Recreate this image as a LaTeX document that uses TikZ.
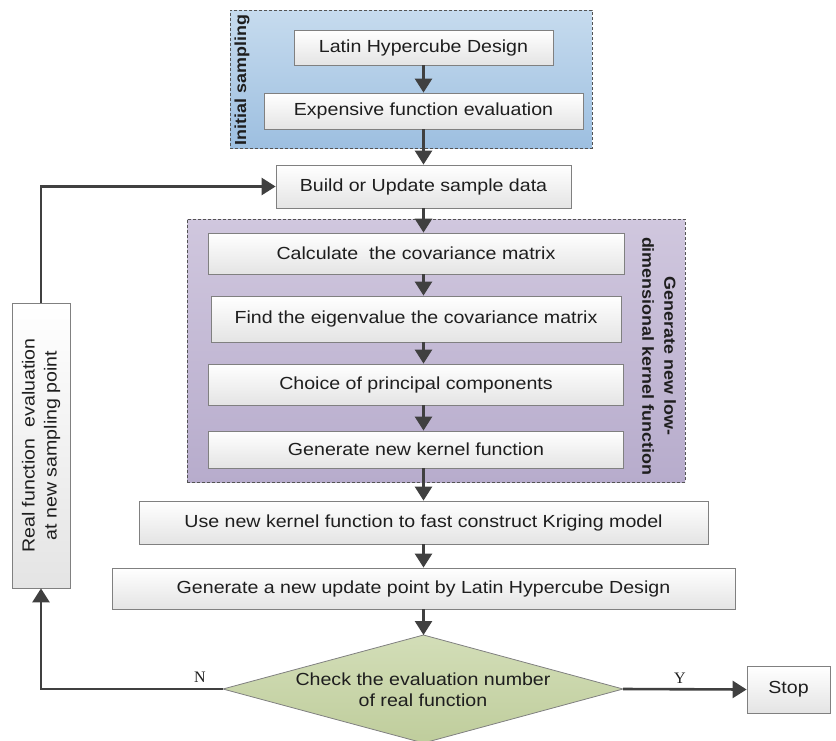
\documentclass[tikz,border=0pt]{standalone}
\usepackage{fontspec}
\setmainfont{Liberation Sans}[FakeStretch=1.12]
\newfontfamily\ynfont{Liberation Serif}
\usetikzlibrary{arrows.meta}

\definecolor{arrowgray}{HTML}{404040}
\definecolor{boxedge}{HTML}{808080}
\definecolor{boxshade}{HTML}{E4E4E4}
\definecolor{txt}{HTML}{1E1E1E}
\definecolor{bluetop}{HTML}{C6DBEE}
\definecolor{bluebot}{HTML}{9DBFE0}
\definecolor{purptop}{HTML}{D0C7DE}
\definecolor{purpbot}{HTML}{B7ACCC}
\definecolor{greentop}{HTML}{D3DEB8}
\definecolor{greenbot}{HTML}{BFCD9C}

\tikzset{
  stepbox/.style={draw=boxedge, line width=0.8pt, top color=white, bottom color=boxshade,
    text=txt, inner sep=0pt, font=\fontsize{17.5}{22}\selectfont},
  groupbox/.style={draw=arrowgray!90, line width=0.8pt, dash pattern=on 3pt off 2pt,
    inner sep=0pt},
  grouplabel/.style={text=txt, font=\bfseries\fontsize{16}{22}\selectfont, align=center},
  flow/.style={draw=arrowgray, line width=2.6pt, -{Triangle[length=14pt,width=17pt]}},
  ynlabel/.style={text=txt, font=\ynfont\fontsize{16}{18}\selectfont},
}

\begin{document}
\begin{tikzpicture}[x=1pt,y=-1pt]
\useasboundingbox (0,0) rectangle (836,740);

% grouping frames
\node[groupbox, top color=bluetop, bottom color=bluebot,
      minimum width=362pt, minimum height=138pt] (initgrp) at (411,79) {};
\node[groupbox, top color=purptop, bottom color=purpbot,
      minimum width=498pt, minimum height=263pt] (pcagrp) at (436,350.5) {};

\node[grouplabel, rotate=90] (initlbl) at (242,80) {Initial sampling};
\node[grouplabel, rotate=-90] (pcalbl) at (659,356)
  {Generate new low-\\dimensional kernel function};

% process steps
\node[stepbox, minimum width=259pt, minimum height=35pt] (lhd) at (423.5,47.5)
  {Latin Hypercube Design};
\node[stepbox, minimum width=319pt, minimum height=36pt] (expf) at (423.5,111)
  {Expensive function evaluation};
\node[stepbox, minimum width=295pt, minimum height=43pt] (build) at (423.5,186.5)
  {Build or Update sample data};
\node[stepbox, minimum width=416pt, minimum height=41pt] (calc) at (416,253.5)
  {Calculate~ the covariance matrix};
\node[stepbox, minimum width=410pt, minimum height=46pt] (eig) at (416,319)
  {Find the eigenvalue the covariance matrix};
\node[stepbox, minimum width=415pt, minimum height=41pt] (choice) at (416,384.5)
  {Choice of principal components};
\node[stepbox, minimum width=415pt, minimum height=37pt] (genk) at (416,449.5)
  {Generate new kernel function};
\node[stepbox, minimum width=569pt, minimum height=43pt] (usek) at (423.5,522.5)
  {Use new kernel function to fast construct Kriging model};
\node[stepbox, minimum width=623pt, minimum height=41pt] (genp) at (423.5,588.5)
  {Generate a new update point by Latin Hypercube Design};
\node[stepbox, minimum width=83pt, minimum height=47pt] (stop) at (788.5,689.5)
  {Stop};
\node[stepbox, rotate=90, align=center, minimum width=285pt, minimum height=58pt]
  (real) at (41,445.5) {Real function~ evaluation\\at new sampling point};

% decision
\coordinate (chkT) at (423.5,635);
\coordinate (chkR) at (623,689);
\coordinate (chkB) at (423.5,743);
\coordinate (chkL) at (223,689);
\path[draw=boxedge, line width=0.8pt, top color=greentop, bottom color=greenbot]
  (chkT) -- (chkR) -- (chkB) -- (chkL) -- cycle;
\node[text=txt, align=center, font=\fontsize{17.5}{21}\selectfont] (check) at (423,690)
  {Check the evaluation number\\of real function};

% connectors, all on the main axis of the flow
\draw[flow] (lhd.south) -- (expf.north);
\draw[flow] (expf.south) -- (build.north);
\draw[flow] (build.south) -- (build.south |- calc.north);
\draw[flow] (calc.south -| build.south) -- (build.south |- eig.north);
\draw[flow] (eig.south -| build.south) -- (build.south |- choice.north);
\draw[flow] (choice.south -| build.south) -- (build.south |- genk.north);
\draw[flow] (genk.south -| build.south) -- (usek.north);
\draw[flow] (usek.south) -- (genp.north);
\draw[flow] (genp.south) -- (chkT);
\draw[flow] (chkR) -- (stop.west);
\draw[flow] (chkL) -| (real.west);
\draw[flow] (real.east) |- (build.west);

\node[ynlabel] (nlbl) at (200,677) {N};
\node[ynlabel] (ylbl) at (680,678) {Y};
\end{tikzpicture}
\end{document}
